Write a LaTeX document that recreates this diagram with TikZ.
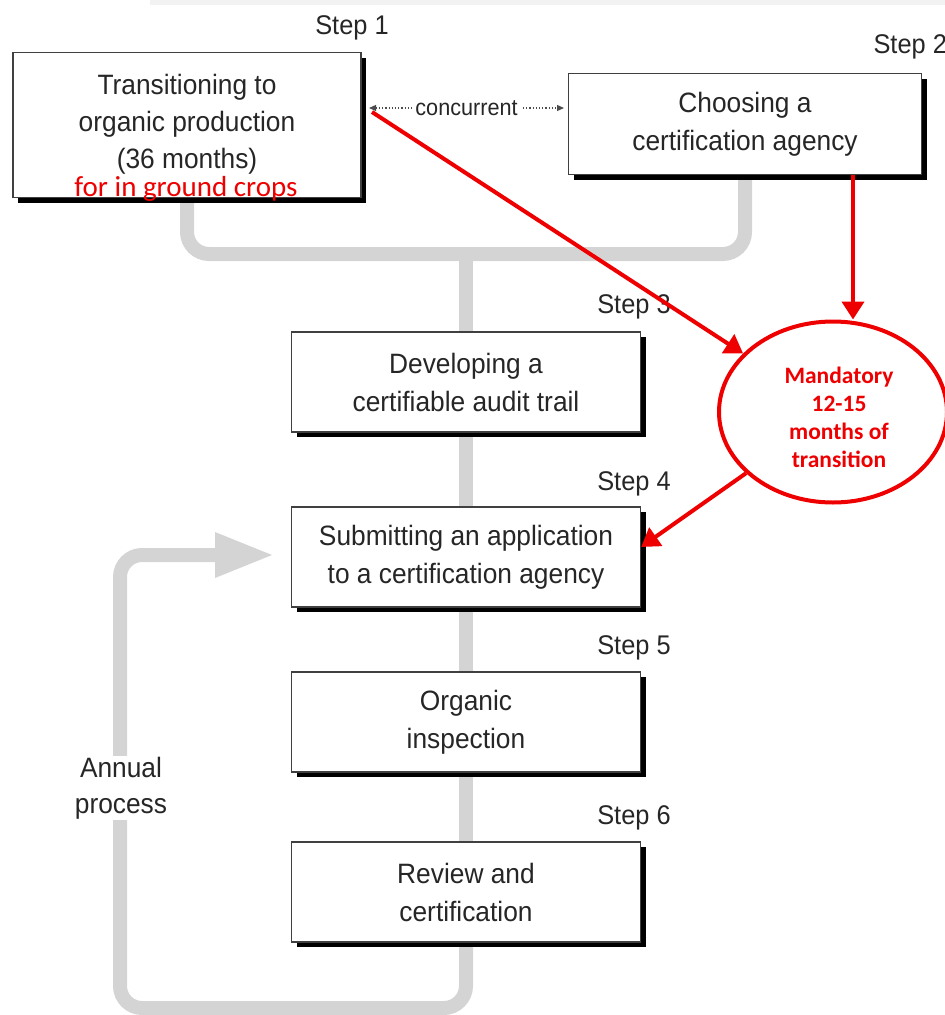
\documentclass[tikz,border=0pt]{standalone}
\usepackage{fontspec}
\setmainfont{Liberation Sans}[FakeStretch=0.94]
\newfontfamily\notefont{Carlito}
\usepackage{tikz}
\usetikzlibrary{arrows.meta, shapes.geometric, shadows, backgrounds, calc}
\usepackage{xcolor}
\definecolor{trailgray}{RGB}{212,212,212}
\definecolor{notered}{RGB}{238,0,0}

\tikzset{
	stepbox/.style={draw=black!75, line width=1.2pt, fill=white, minimum width=349pt, minimum height=100pt, align=center, text=black!85, font=\fontsize{28}{38}\selectfont, drop shadow={shadow xshift=5pt, shadow yshift=-5pt, fill=black, opacity=1}},
	steplabel/.style={text=black!85, font=\fontsize{27}{30}\selectfont},
	trail/.style={draw=trailgray, line width=14pt, rounded corners=22pt},
	redarrow/.style={draw=notered, line width=4pt, -{Triangle[length=18pt, width=22pt]}}
}

\begin{document}
\begin{tikzpicture}[x=1pt, y=-1pt]
	\useasboundingbox (0,0) rectangle (945,1015);
	\fill [black!5] (150,0) rectangle (945,5);
	\node [stepbox, minimum width=348pt, minimum height=145pt] (transition) at (187,125) {};
	\node [align=center, text=black!85, font=\fontsize{28}{37}\selectfont] (transitiontext) at (187,124) {Transitioning to\\organic production\\(36 months)};
	\node [text=notered, font=\notefont\fontsize{29}{30}\selectfont] (crops) at (186,189) {for in ground crops};
	\node [stepbox, minimum width=353pt, minimum height=101pt] (agency) at (745,124) {Choosing a\\certification agency};
	\node [stepbox] (audit) at (466,382) {Developing a\\certifiable audit trail};
	\node [stepbox] (apply) at (466,557) {Submitting an application\\to a certification agency};
	\node [stepbox] (inspect) at (466,722) {Organic\\inspection};
	\node [stepbox] (review) at (466,892) {Review and\\certification};
	\node [steplabel] (step1) at (352,28) {Step 1};
	\node [steplabel, anchor=west] (step2) at (870,47) {Step 2};
	\node [steplabel] (step3) at (634,307) {Step 3};
	\node [steplabel] (step4) at (634,484) {Step 4};
	\node [steplabel] (step5) at (634,648) {Step 5};
	\node [steplabel] (step6) at (634,818) {Step 6};
	\node [fill=white, align=center, text=black!85, font=\fontsize{28}{36}\selectfont, inner sep=1pt] (annual) at (121,788) {Annual\\process};
	\coordinate (fork) at (466,254);
	\coordinate (loop) at (120,1008);
	\coordinate (gate) at (215,555);
	\begin{scope}[on background layer]
		\draw [trail] (transition.south) -- (transition.south |- fork) -- (agency.south |- fork) -- (agency.south);
		\draw [trail] (fork) -- (audit.north);
		\draw [trail] (audit.south) -- (apply.north);
		\draw [trail] (apply.south) -- (inspect.north);
		\draw [trail] (inspect.south) -- (review.north);
		\draw [trail] (review.south) |- (loop) |- (gate);
		\fill [trailgray] ($(gate)+(0,-23)$) -- ($(gate)+(57,0)$) -- ($(gate)+(0,23)$) -- cycle;
	\end{scope}
	\coordinate (c1) at (369,108);
	\coordinate (c2) at (564,108);
	\draw [black!70, line width=1.2pt, dotted, {Triangle[length=7pt, width=6pt]}-{Triangle[length=7pt, width=6pt]}] (c1) -- node [fill=white, text=black!85, font=\fontsize{23}{25}\selectfont, inner sep=3pt] (concurrent) {concurrent} (c2);
	\node [draw=notered, line width=4pt, ellipse, minimum width=228pt, minimum height=181pt] (mandatory) at (833,412) {};
	\node [align=center, text=notered, font=\notefont\bfseries\fontsize{23.5}{28}\selectfont] (mandatorytext) at (839,417) {Mandatory\\12-15\\months of\\transition};
	\coordinate (c0) at (372,112);
	\draw [redarrow] (c0) -- (mandatory);
	\draw [redarrow] ([xshift=108pt]agency.south) -- ([xshift=108pt]agency.south |- mandatory.north);
	\draw [redarrow] (mandatory) -- ([yshift=10pt]apply.east);
\end{tikzpicture}
\end{document}
